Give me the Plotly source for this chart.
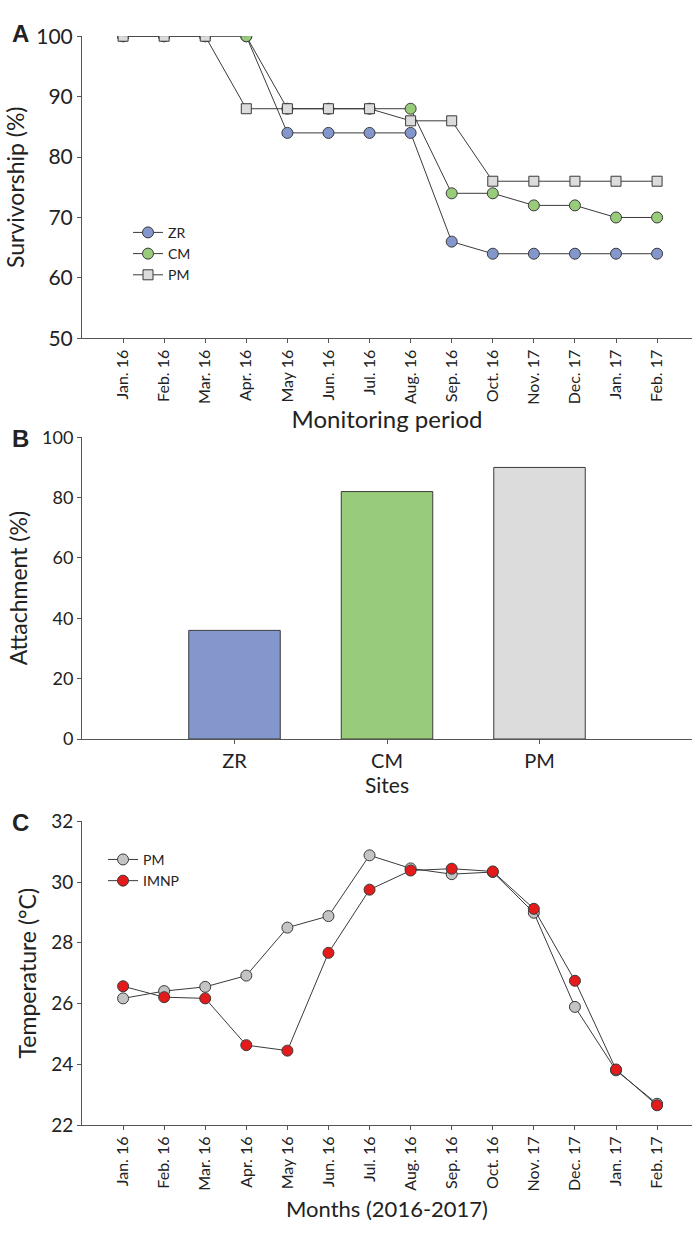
import plotly.graph_objects as go

months = ["Jan. 16", "Feb. 16", "Mar. 16", "Apr. 16", "May 16", "Jun. 16", "Jul. 16",
          "Aug. 16", "Sep. 16", "Oct. 16", "Nov. 17", "Dec. 17", "Jan. 17", "Feb. 17"]

surv_zr = [100, 100, 100, 100, 84, 84, 84, 84, 66, 64, 64, 64, 64, 64]
surv_cm = [100, 100, 100, 100, 88, 88, 88, 88, 74, 74, 72, 72, 70, 70]
surv_pm = [100, 100, 100, 88, 88, 88, 88, 86, 86, 76, 76, 76, 76, 76]

sites = ["ZR", "CM", "PM"]
attachment = [36, 82, 90]

temp_pm = [26.17, 26.41, 26.55, 26.92, 28.50, 28.88, 30.88, 30.45, 30.26, 30.33, 28.99, 25.89, 23.80, 22.70]
temp_imnp = [26.57, 26.21, 26.17, 24.63, 24.45, 27.67, 29.75, 30.38, 30.44, 30.35, 29.12, 26.75, 23.83, 22.65]

FONT = "Lato, Noto Sans, sans-serif"
LINE = "#3a3a3a"
AX = "#555555"

C_ZR = "#8497CC"
C_CM = "#98CC7A"
C_PM = "#DCDCDC"
C_PMT = "#C4C4C4"
C_IM = "#E31B1B"

fig = go.Figure()

def mk(color, symbol="circle", size=11):
    return dict(color=color, symbol=symbol, size=size, line=dict(color=LINE, width=1))

# Panel A
fig.add_trace(go.Scatter(x=months, y=surv_zr, name="ZR", mode="lines+markers",
                         line=dict(color=LINE, width=1), marker=mk(C_ZR),
                         xaxis="x", yaxis="y", legend="legend"))
fig.add_trace(go.Scatter(x=months, y=surv_cm, name="CM", mode="lines+markers",
                         line=dict(color=LINE, width=1), marker=mk(C_CM),
                         xaxis="x", yaxis="y", legend="legend"))
fig.add_trace(go.Scatter(x=months, y=surv_pm, name="PM", mode="lines+markers",
                         line=dict(color=LINE, width=1), marker=mk(C_PM, "square", 10),
                         xaxis="x", yaxis="y", legend="legend"))

# Panel B
fig.add_trace(go.Bar(x=sites, y=attachment, width=0.6, showlegend=False,
                     marker=dict(color=[C_ZR, C_CM, C_PM], line=dict(color=LINE, width=1)),
                     xaxis="x2", yaxis="y2"))

# Panel C
fig.add_trace(go.Scatter(x=months, y=temp_pm, name="PM", mode="lines+markers",
                         line=dict(color=LINE, width=1), marker=mk(C_PMT),
                         xaxis="x3", yaxis="y3", legend="legend2"))
fig.add_trace(go.Scatter(x=months, y=temp_imnp, name="IMNP", mode="lines+markers",
                         line=dict(color=LINE, width=1), marker=mk(C_IM),
                         xaxis="x3", yaxis="y3", legend="legend2"))

xdom = [82 / 692, 1.0]

def px2y(p):
    return 1 - p / 1235

common_ax = dict(showline=True, linecolor=AX, linewidth=1, ticks="outside", tickcolor=AX,
                 ticklen=4, showgrid=False, zeroline=False)

fig.update_layout(
    width=692, height=1235, margin=dict(l=0, r=0, t=0, b=0),
    paper_bgcolor="white", plot_bgcolor="white",
    font=dict(family=FONT, color="#222"),
    xaxis=dict(domain=xdom, anchor="y", type="category", range=[-1, 13.85], tickangle=-90,
               tickfont=dict(size=16), title=dict(text="Monitoring period", font=dict(size=24), standoff=4),
               **common_ax),
    yaxis=dict(domain=[px2y(331), px2y(22.7)], anchor="x", range=[50, 100], dtick=10,
               tickfont=dict(size=21), title=dict(text="Survivorship (%)", font=dict(size=23), standoff=5),
               **common_ax),
    xaxis2=dict(domain=xdom, anchor="y2", type="category", range=[-1, 3],
                tickfont=dict(size=20), title=dict(text="Sites", font=dict(size=21), standoff=2),
                **common_ax),
    yaxis2=dict(domain=[px2y(740), px2y(432)], anchor="x2", range=[0, 100], dtick=20,
                tickfont=dict(size=18), title=dict(text="Attachment (%)", font=dict(size=23), standoff=8),
                **common_ax),
    xaxis3=dict(domain=xdom, anchor="y3", type="category", range=[-1, 13.85], tickangle=-90,
                tickfont=dict(size=16), title=dict(text="Months (2016-2017)", font=dict(size=22), standoff=11),
                **common_ax),
    yaxis3=dict(domain=[px2y(1134), px2y(824)], anchor="x3", range=[22, 32], dtick=2,
                tickfont=dict(size=19), title=dict(text="Temperature (°C)", font=dict(size=23), standoff=8),
                **common_ax),
    legend=dict(x=128 / 692, y=px2y(207), xanchor="left", yanchor="top", bgcolor="rgba(0,0,0,0)",
                font=dict(size=14), tracegroupgap=0, itemclick=False),
    legend2=dict(x=103 / 692, y=px2y(847), xanchor="left", yanchor="top", bgcolor="rgba(0,0,0,0)",
                 font=dict(size=14), tracegroupgap=0, itemclick=False),
    bargap=0.4,
    annotations=[
        dict(text="<b>A</b>", x=10 / 692, y=px2y(20), xref="paper", yref="paper", showarrow=False,
             xanchor="left", yanchor="middle", font=dict(size=24, family="Liberation Sans, Arial, sans-serif")),
        dict(text="<b>B</b>", x=10 / 692, y=px2y(433), xref="paper", yref="paper", showarrow=False,
             xanchor="left", yanchor="middle", font=dict(size=24, family="Liberation Sans, Arial, sans-serif")),
        dict(text="<b>C</b>", x=10 / 692, y=px2y(825), xref="paper", yref="paper", showarrow=False,
             xanchor="left", yanchor="middle", font=dict(size=24, family="Liberation Sans, Arial, sans-serif")),
    ],
)

fig.write_html("out.html")
